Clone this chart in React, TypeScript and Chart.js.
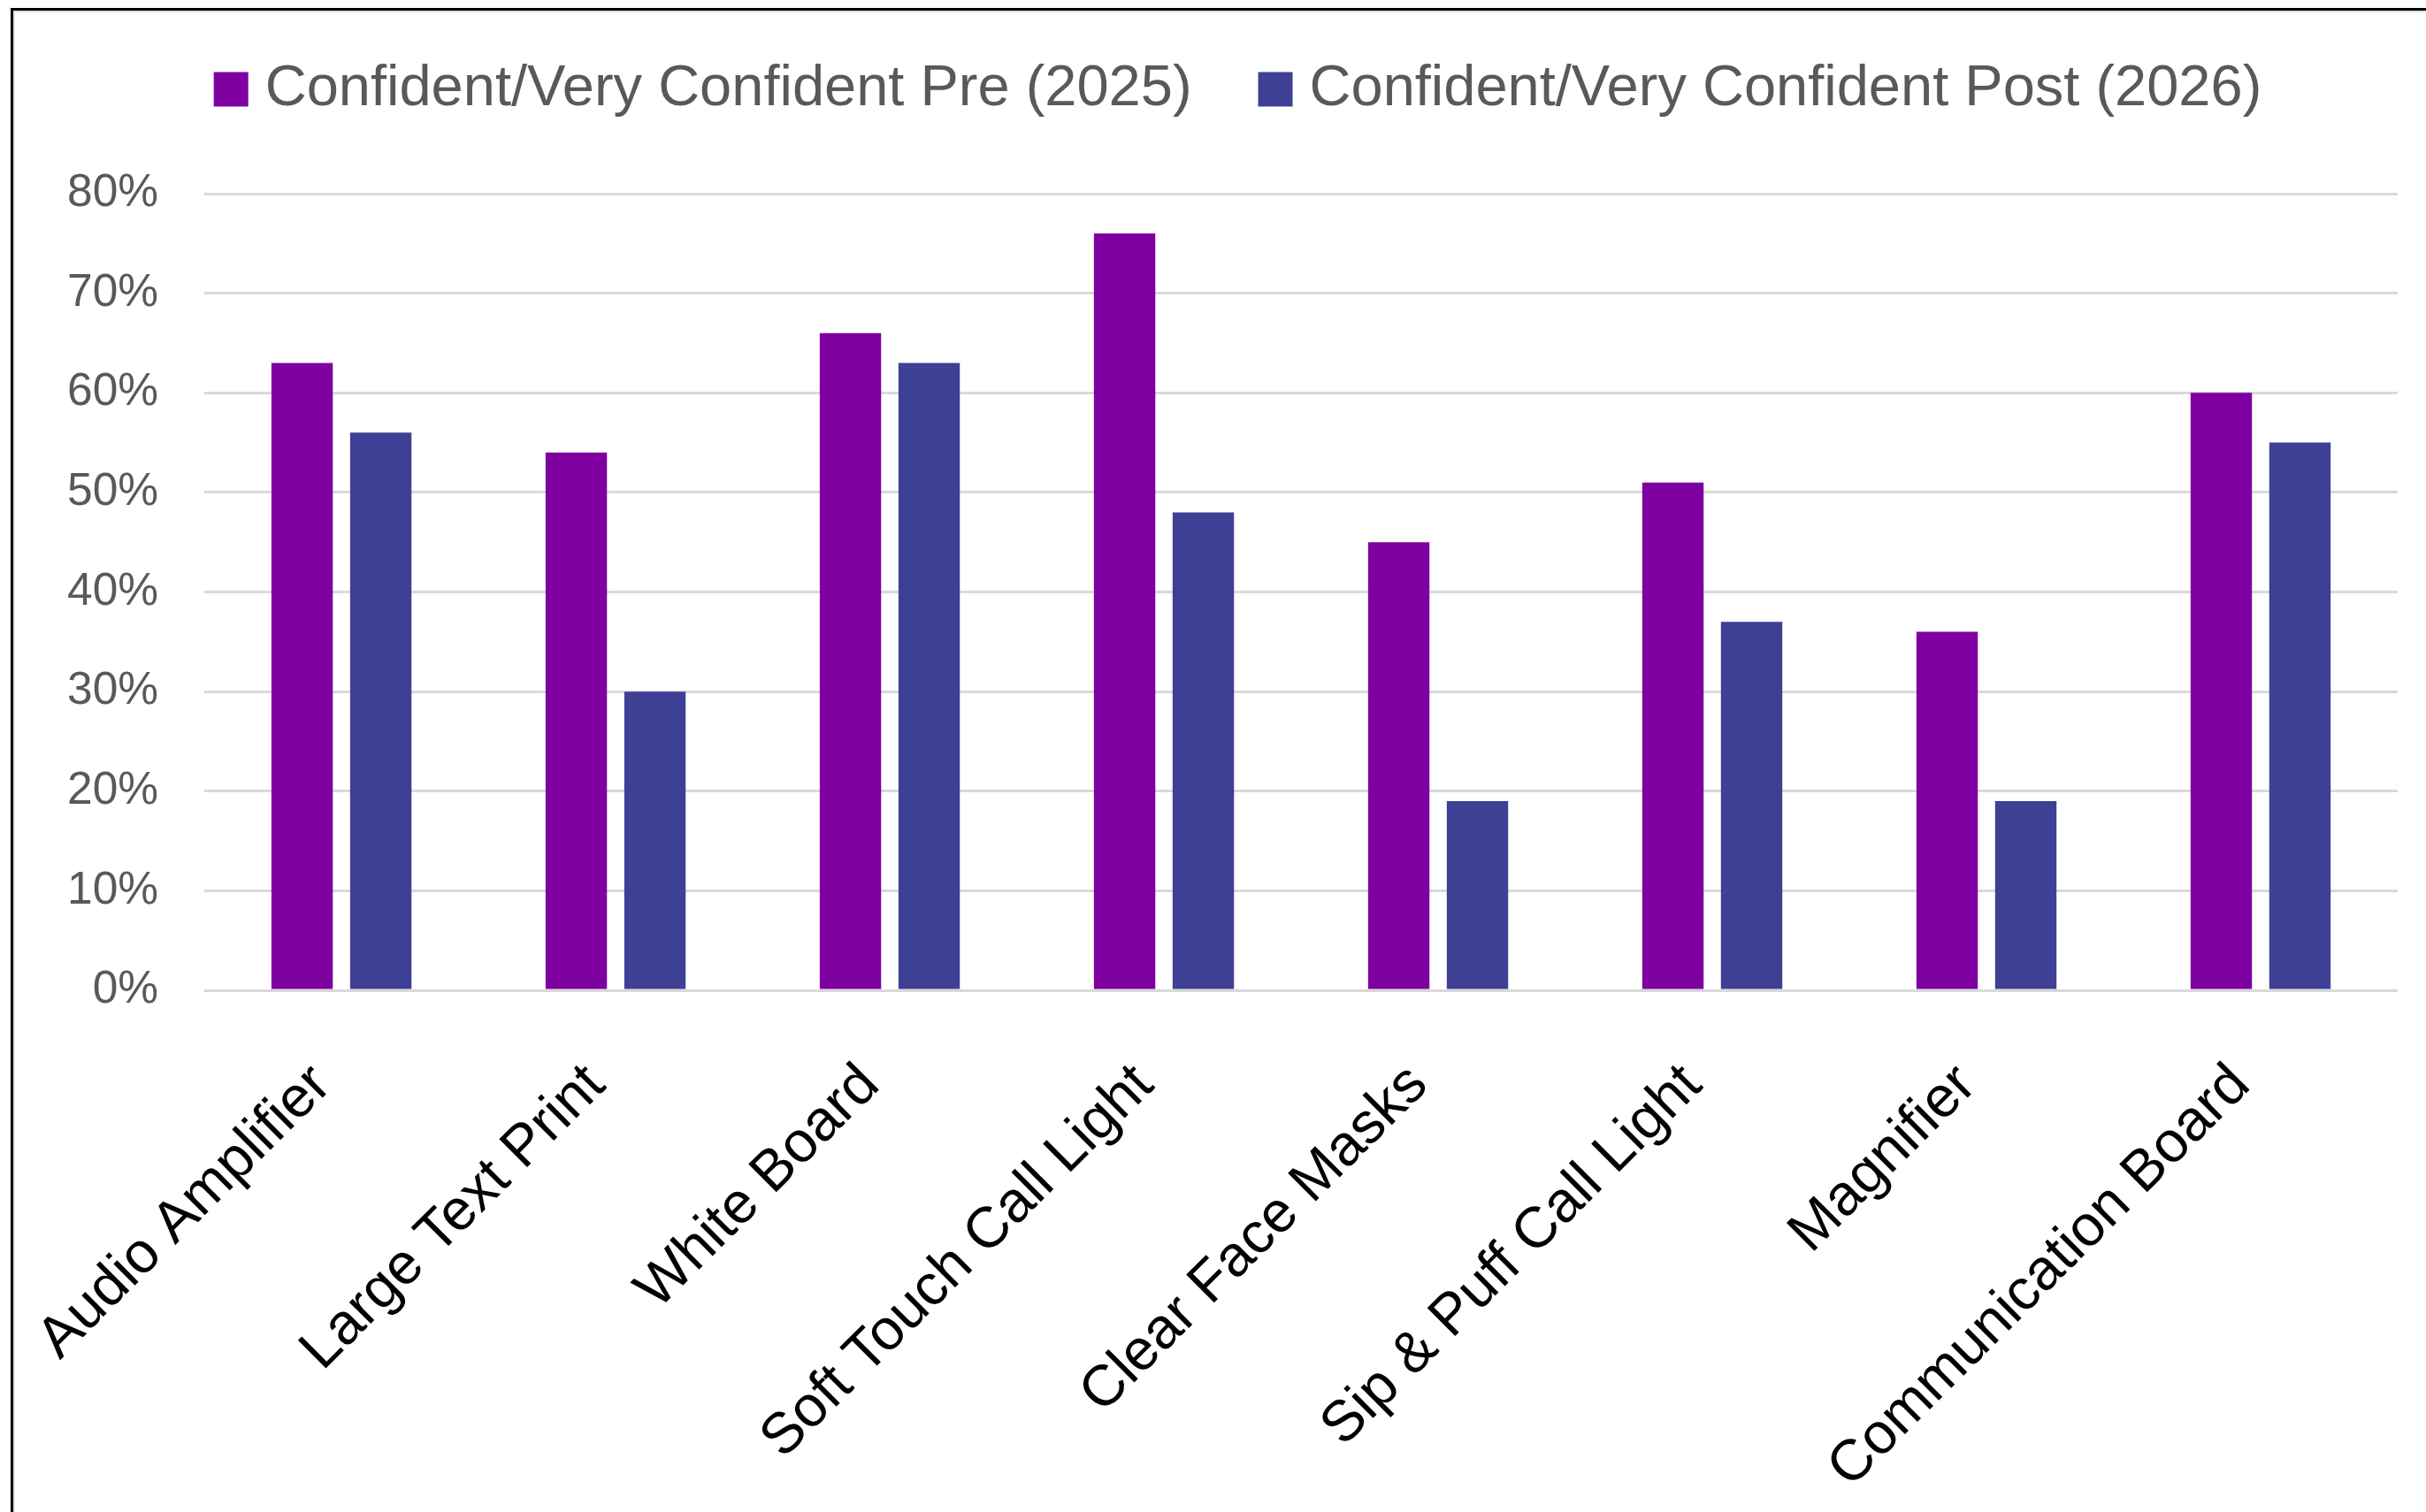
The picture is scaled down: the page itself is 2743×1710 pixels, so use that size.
import React, { useEffect, useRef } from "react";
import { Chart, registerables } from "chart.js";

Chart.register(...registerables);

// Assistive devices surveyed
const categories = [
  "Audio Amplifier",
  "Large Text Print",
  "White Board",
  "Soft Touch Call Light",
  "Clear Face Masks",
  "Sip & Puff Call Light",
  "Magnifier",
  "Communication Board",
];

const preLabel = "Confident/Very Confident Pre (2025)";
const postLabel = "Confident/Very Confident Post (2026)";

// Share of staff confident / very confident, in percent
const preValues = [63, 54, 66, 76, 45, 51, 36, 60];
const postValues = [56, 30, 63, 48, 19, 37, 19, 55];

const yMin = 0;
const yMax = 80;
const yStep = 10;

const PRE_COLOR = "#7E00A1";
const POST_COLOR = "#3E4095";
const FONT = "'Liberation Sans', Arial, Helvetica, sans-serif";

const W = 2743;
const H = 1710;

// Single-row legend drawn above the plot: square swatch, then the series name.
const topLegend = {
  id: "topLegend",
  afterDraw(chart: any) {
    const ctx = chart.ctx as CanvasRenderingContext2D;
    const box = 39;
    const gap = 19;
    const spacing = 75;
    const cy = 101;
    ctx.save();
    ctx.font = `65px ${FONT}`;
    const items = chart.data.datasets.map((ds: any) => ({
      text: ds.label as string,
      color: ds.backgroundColor as string,
      w: ctx.measureText(ds.label).width,
    }));
    const total =
      items.reduce((s: number, it: any) => s + box + gap + it.w, 0) +
      spacing * (items.length - 1);
    let x = chart.width / 2 + 28 - total / 2;
    ctx.textBaseline = "middle";
    ctx.textAlign = "left";
    for (const it of items) {
      ctx.fillStyle = it.color;
      ctx.fillRect(x, cy - box / 2, box, box);
      ctx.fillStyle = "#595959";
      ctx.fillText(it.text, x + box + gap, cy);
      x += box + gap + it.w + spacing;
    }
    ctx.restore();
  },
};

export default function App() {
  const canvasRef = useRef<HTMLCanvasElement | null>(null);

  useEffect(() => {
    const canvas = canvasRef.current;
    if (!canvas) return;
    Chart.defaults.font.family = FONT;

    const chart = new Chart(canvas, {
      type: "bar",
      data: {
        labels: categories,
        datasets: [
          {
            label: preLabel,
            data: preValues,
            backgroundColor: PRE_COLOR,
            borderWidth: 0,
            barPercentage: 0.78,
            categoryPercentage: 0.574,
          },
          {
            label: postLabel,
            data: postValues,
            backgroundColor: POST_COLOR,
            borderWidth: 0,
            barPercentage: 0.78,
            categoryPercentage: 0.574,
          },
        ],
      },
      options: {
        responsive: false,
        animation: false,
        devicePixelRatio: 1,
        layout: { padding: { left: 24, right: 32, top: 219, bottom: -58 } },
        plugins: {
          legend: { display: false },
          tooltip: { enabled: false },
          title: { display: false },
        },
        scales: {
          x: {
            grid: { display: false, drawTicks: false },
            border: { display: false },
            ticks: {
              autoSkip: false,
              minRotation: 45,
              maxRotation: 45,
              padding: 69,
              labelOffset: -22,
              color: "#000000",
              font: { family: FONT, size: 65 },
            },
            // rotated labels may hang past the plot's left edge
            afterFit(scale: any) {
              scale.paddingLeft = 0;
              scale.paddingRight = 0;
            },
          },
          y: {
            min: yMin,
            max: yMax,
            grid: { color: "#D9D9D9", lineWidth: 3, drawTicks: false },
            border: { display: false },
            ticks: {
              stepSize: yStep,
              padding: 52,
              color: "#595959",
              font: { family: FONT, size: 51.5 },
              callback: (v: any) => `${v}%`,
            },
          },
        },
      },
      plugins: [topLegend],
    });

    return () => chart.destroy();
  }, []);

  return (
    <div
      style={{
        position: "fixed",
        left: 0,
        top: 0,
        width: W,
        height: H,
        background: "#ffffff",
        overflow: "hidden",
      }}
    >
      <canvas
        ref={canvasRef}
        width={W}
        height={H}
        style={{ position: "absolute", left: 0, top: 0, width: W, height: H }}
      />
      <div
        style={{
          position: "absolute",
          left: 12,
          top: 9,
          right: 0,
          bottom: 0,
          borderTop: "3px solid #000",
          borderLeft: "3px solid #000",
          boxShadow: "inset 2px 2px 0 #e2e2e2",
          pointerEvents: "none",
        }}
      />
    </div>
  );
}
